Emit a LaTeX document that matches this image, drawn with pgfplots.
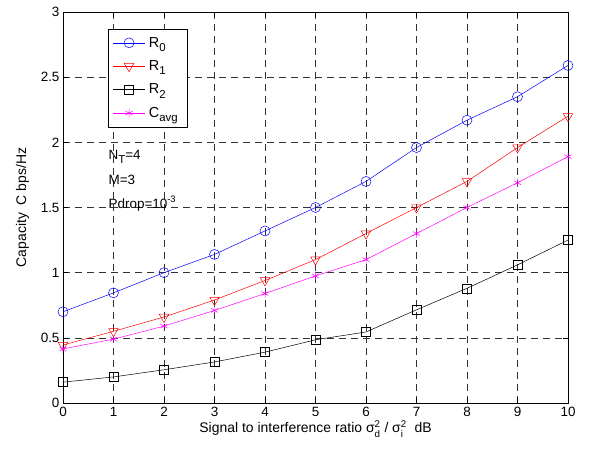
\documentclass[border=0pt]{standalone}
\usepackage{amsmath}
\usepackage{fontspec}
\setmainfont{Liberation Sans}
\usepackage{pgfplots}
\pgfplotsset{compat=1.18}

\definecolor{mlblue}{RGB}{0,0,255}
\definecolor{mlred}{RGB}{255,0,0}
\definecolor{mlmag}{RGB}{255,0,255}

\newcommand{\lsub}[1]{\raisebox{-0.55ex}{\fontsize{11.5}{12}\selectfont #1}}

\pgfplotstableread{
x   R0    R1    R2     Cavg
0   0.70  0.445 0.16   0.415
1   0.845 0.55  0.20   0.49
2   1.00  0.66  0.255  0.59
3   1.14  0.79  0.315  0.71
4   1.32  0.94  0.39   0.84
5   1.50  1.10  0.485  0.975
6   1.70  1.30  0.545  1.10
7   1.96  1.50  0.715  1.30
8   2.17  1.70  0.88   1.50
9   2.35  1.96  1.06   1.69
10  2.59  2.20  1.25   1.89
}\captable

\begin{document}
\begin{tikzpicture}
\begin{axis}[
  scale only axis,
  width=505bp, height=391bp,
  xmin=0, xmax=10, ymin=0, ymax=3,
  xtick={0,1,...,10},
  ytick={0,0.5,...,3},
  yticklabels={0,0.5,1,1.5,2,2.5,3},
  tick align=inside,
  major tick length=5bp,
  every tick/.style={black, line width=0.5pt},
  axis line style={line width=0.6pt},
  grid=major,
  grid style={black!80, line width=0.6pt, dash pattern=on 7bp off 5bp},
  /pgf/number format/assume math mode=true,
  tick label style={font=\fontsize{13.5}{15}\selectfont},
  xticklabel style={yshift=-1bp},
  label style={font=\fontsize{14}{15}\selectfont},
  xlabel={Signal to interference ratio $\text{σ}_{\text{d}}^{\text{2}}$ / $\text{σ}_{\text{i}}^{\text{2}}$\ \ dB},
  ylabel={Capacity\ \ C bps/Hz},
  xlabel style={yshift=3bp},
  ylabel style={yshift=5bp},
  legend cell align=left,
  legend style={at={(rel axis cs:0.089,0.957)}, anchor=north west,
    draw=black, line width=0.6pt, font=\fontsize{14.5}{17}\selectfont,
    row sep=8bp, inner xsep=5bp, inner ysep=6bp,
    nodes={inner xsep=4bp}},
  legend image code/.code={%
    \draw[mark repeat=2,mark phase=2,#1] plot coordinates {(0cm,0cm) (0.55cm,0cm) (1.1cm,0cm)};},
]
\addplot[mlblue, line width=0.5pt, mark=o, mark size=5bp, mark options={solid}] table[x=x,y=R0] {\captable};
\addlegendentry{R\lsub{0}}
\addplot[mlred, line width=0.5pt, mark=triangle, mark size=5.5bp, mark options={solid, rotate=180}] table[x=x,y=R1] {\captable};
\addlegendentry{R\lsub{1}}
\addplot[black, line width=0.5pt, mark=square, mark size=4.5bp, mark options={solid}] table[x=x,y=R2] {\captable};
\addlegendentry{R\lsub{2}}
\addplot[mlmag, line width=0.5pt, mark=asterisk, mark size=4bp, mark options={solid}] table[x=x,y=Cavg] {\captable};
\addlegendentry{C\lsub{avg}}
\node[anchor=west, font=\fontsize{13.5}{15}\selectfont, inner sep=0pt] at (axis cs:0.9,1.89) {N\lsub{T}=4};
\node[anchor=west, font=\fontsize{13.5}{15}\selectfont, inner sep=0pt] at (axis cs:0.9,1.71) {M=3};
\node[anchor=west, font=\fontsize{13.5}{15}\selectfont, inner sep=0pt] at (axis cs:0.9,1.53) {Pdrop=10\textsuperscript{-3}};
\end{axis}
\path[use as bounding box] (-63bp,-50bp) rectangle (536bp,403bp);
\end{tikzpicture}
\end{document}
